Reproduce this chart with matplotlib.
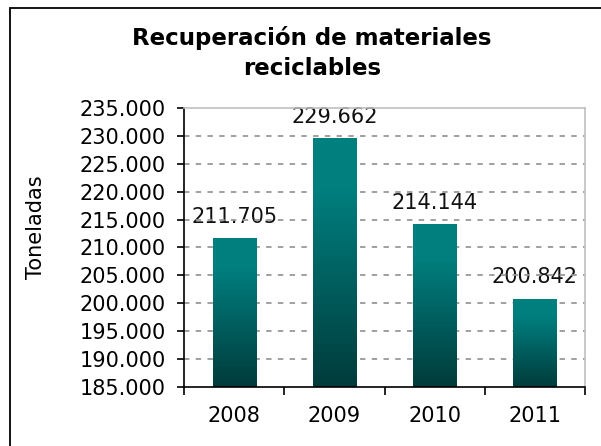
import matplotlib
matplotlib.use("Agg")
import matplotlib.pyplot as plt
import numpy as np
from matplotlib.colors import LinearSegmentedColormap
from matplotlib.patches import Rectangle
from matplotlib.ticker import FuncFormatter, MultipleLocator

years = ["2008", "2009", "2010", "2011"]
values = [211705, 229662, 214144, 200842]
title = "Recuperación de materiales\nreciclables"
ylabel = "Toneladas"

W, H = 601, 446
fig = plt.figure(figsize=(W / 100, H / 100), dpi=100)
fig.patch.set_facecolor("white")

# outer chart frame (extends beyond the image on right/bottom)
fig.patches.append(Rectangle((10.5 / W, -0.05), 1.2, 1 - 7.5 / H + 0.05,
                             transform=fig.transFigure, fill=False,
                             edgecolor="black", lw=1.3))

ax = fig.add_axes([184 / W, 1 - 387 / H, (585 - 184) / W, (387 - 108) / H])

x = np.arange(len(years))
bars = ax.bar(x, values, width=0.43, color="none", edgecolor="none", zorder=2)

cmap = LinearSegmentedColormap.from_list(
    "tealgrad", [(0.0, "#003b3b"), (0.8, "#007f7f"), (1.0, "#008080")], N=1024)
grad = np.linspace(0, 1, 512).reshape(-1, 1)
for b in bars:
    x0, y0 = b.get_x(), b.get_y()
    w, h = b.get_width(), b.get_height()
    top = y0 + h
    bottom = 185000
    im = ax.imshow(grad, cmap=cmap, aspect="auto", origin="lower",
                   extent=(x0, x0 + w, bottom, top), zorder=2,
                   interpolation="bilinear")
    clip = Rectangle((x0, bottom), w, top - bottom, transform=ax.transData)
    im.set_clip_path(clip)

ax.set_xlim(-0.5, len(years) - 0.5)
ax.set_ylim(185000, 235000)

# gridlines
ax.yaxis.set_major_locator(MultipleLocator(5000))
for t in np.arange(190000, 235000, 5000):
    ax.axhline(t, color="#999999", lw=1.3, ls=(0, (3, 3.5)), zorder=1.5)

for xi, v in zip(x, values):
    ax.annotate(f"{v:,}".replace(",", "."), (xi, v), xytext=(0, 8),
                textcoords="offset points", ha="center", va="bottom",
                fontsize=15, color="#111111", zorder=1)

ax.yaxis.set_major_formatter(FuncFormatter(lambda v, p: f"{int(v):,}".replace(",", ".")))
ax.set_xticks(np.arange(-0.5, len(years), 1.0))
ax.set_xticklabels([])
ax.set_xticks(x, minor=True)
ax.set_xticklabels(years, minor=True)
ax.tick_params(axis="x", which="major", length=6, width=1.2, direction="out")
ax.tick_params(axis="x", which="minor", length=0, pad=14, labelsize=15)
ax.tick_params(axis="y", length=5, width=1.2, direction="out", pad=8, labelsize=15)

for s in ["left", "bottom"]:
    ax.spines[s].set_color("black")
    ax.spines[s].set_linewidth(1.2)
for s in ["top", "right"]:
    ax.spines[s].set_color("#c0c0c0")
    ax.spines[s].set_linewidth(1.2)

fig.text(36 / W, 1 - 227 / H, ylabel, rotation=90, ha="center", va="center", fontsize=15)
fig.text(312 / W, 1 - 53 / H, title, ha="center", va="center", fontsize=16.5,
         fontweight="bold", linespacing=1.35)

fig.savefig("out.png", dpi=100)
